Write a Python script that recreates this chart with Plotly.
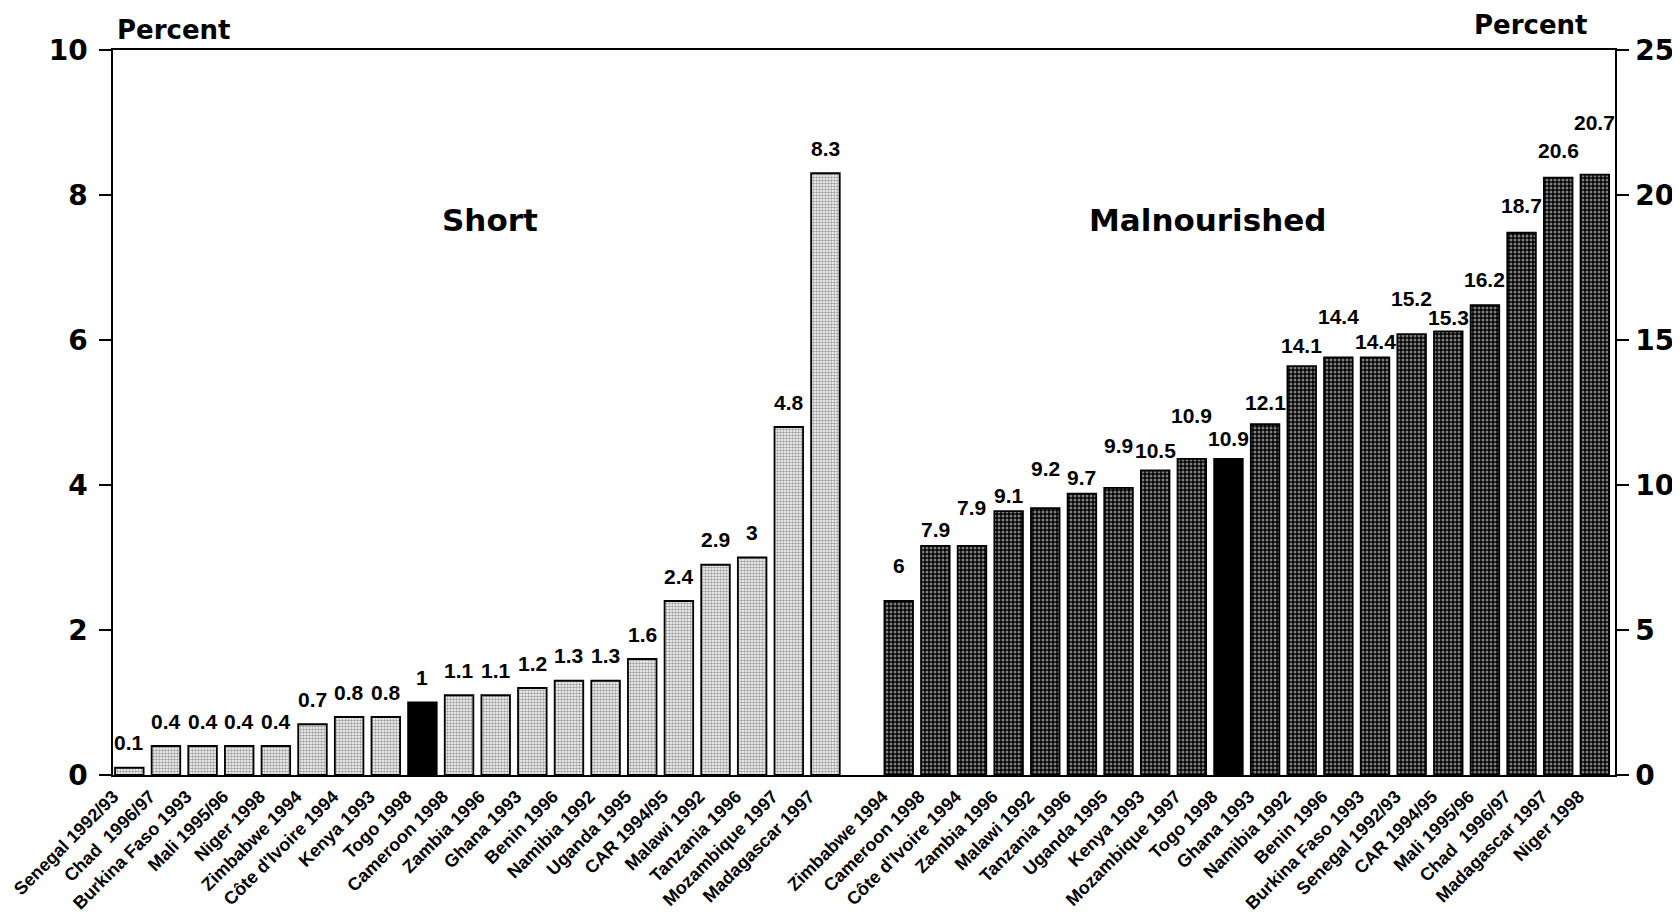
import plotly.graph_objects as go

# ---- data ----
short_labels = ["Senegal 1992/93", "Chad  1996/97", "Burkina Faso 1993", "Mali 1995/96", "Niger 1998",
                "Zimbabwe 1994", "Côte d'Ivoire 1994", "Kenya 1993", "Togo 1998", "Cameroon 1998",
                "Zambia 1996", "Ghana 1993", "Benin 1996", "Namibia 1992", "Uganda 1995",
                "CAR 1994/95", "Malawi 1992", "Tanzania 1996", "Mozambique 1997", "Madagascar 1997"]
short_values = [0.1, 0.4, 0.4, 0.4, 0.4, 0.7, 0.8, 0.8, 1, 1.1, 1.1, 1.2, 1.3, 1.3, 1.6, 2.4, 2.9, 3, 4.8, 8.3]

mal_labels = ["Zimbabwe 1994", "Cameroon 1998", "Côte d'Ivoire 1994", "Zambia 1996", "Malawi 1992",
              "Tanzania 1996", "Uganda 1995", "Kenya 1993", "Mozambique 1997", "Togo 1998",
              "Ghana 1993", "Namibia 1992", "Benin 1996", "Burkina Faso 1993", "Senegal 1992/93",
              "CAR 1994/95", "Mali 1995/96", "Chad  1996/97", "Madagascar 1997", "Niger 1998"]
mal_values = [6, 7.9, 7.9, 9.1, 9.2, 9.7, 9.9, 10.5, 10.9, 10.9, 12.1, 14.1, 14.4, 14.4, 15.2, 15.3, 16.2, 18.7, 20.6, 20.7]

highlight = "Togo 1998"
left_ticks = [0, 2, 4, 6, 8, 10]
right_ticks = [0, 5, 10, 15, 20, 25]

# ---- style ----
FONT = "DejaVu Sans"
FONT2 = "Liberation Sans"
short_label_shift = [25] * len(short_values)
mal_label_shift = [36, 16, 38, 16, 40, 16, 42, 20, 43, 20, 22, 21, 41, 16, 36, 14, 26, 27, 27, 52]

short_x = list(range(len(short_values)))
gap = 1
mal_x = [len(short_values) + gap + i for i in range(len(mal_values))]

short_shape = ["" if l == highlight else "." for l in short_labels]
short_color = ["black" if l == highlight else "white" for l in short_labels]
mal_shape = ["" if l == highlight else "." for l in mal_labels]

fig = go.Figure()
fig.add_trace(go.Bar(
    x=short_x, y=short_values, yaxis="y", width=0.78,
    marker=dict(color=short_color, line=dict(color="black", width=1.8),
                pattern=dict(shape=short_shape, fgcolor="black", size=3, solidity=0.55)),
    showlegend=False, hoverinfo="skip"))
fig.add_trace(go.Bar(
    x=mal_x, y=mal_values, yaxis="y2", width=0.78,
    marker=dict(color="black", line=dict(color="black", width=1.8),
                pattern=dict(shape=mal_shape, fgcolor="white", bgcolor="black", size=4, solidity=0.45)),
    showlegend=False, hoverinfo="skip"))

vfont = dict(family=FONT2, size=21, color="black", weight="bold")
ann = []
for x, v, s in zip(short_x, short_values, short_label_shift):
    ann.append(dict(x=x, y=v, xref="x", yref="y", text=f"{v:g}", showarrow=False, yshift=s, font=vfont))
for x, v, s in zip(mal_x, mal_values, mal_label_shift):
    ann.append(dict(x=x, y=v, xref="x", yref="y2", text=f"{v:g}", showarrow=False, yshift=s, font=vfont))

tfont = dict(family=FONT, size=26, weight="bold", color="black")
ann += [
    dict(text="Percent", x=0, y=1, xref="paper", yref="paper", xanchor="left", yanchor="middle",
         xshift=2, yshift=20, showarrow=False, font=tfont),
    dict(text="Percent", x=1, y=1, xref="paper", yref="paper", xanchor="right", yanchor="middle",
         xshift=-25, yshift=25, showarrow=False, font=tfont),
    dict(text="Short", x=(short_x[0] + short_x[-1]) / 2 + 0.35, y=7.66, xref="x", yref="y",
         yanchor="middle", showarrow=False, font=dict(family=FONT, size=31, weight="bold", color="black")),
    dict(text="Malnourished", x=(mal_x[0] + mal_x[-1]) / 2 - 1.08, y=7.66, xref="x", yref="y",
         yanchor="middle", showarrow=False, font=dict(family=FONT, size=31, weight="bold", color="black")),
]

all_x = short_x + mal_x
fig.update_layout(
    width=1672, height=904,
    margin=dict(l=105, r=65, t=42, b=137),
    paper_bgcolor="white", plot_bgcolor="white",
    barmode="overlay",
    annotations=ann,
    xaxis=dict(range=[-0.445, mal_x[-1] + 0.55], automargin=False,
               tickvals=all_x, ticktext=short_labels + mal_labels, ticklabeloverflow="allow",
               tickangle=-45, ticks="", showline=True, mirror=True, linecolor="black", linewidth=2,
               showgrid=False, zeroline=False, ticklabelshift=-16, ticklabelstandoff=2,
               tickfont=dict(family=FONT2, size=18, color="black", weight="bold")),
    yaxis=dict(range=[0, 10], tickvals=left_ticks, ticks="outside", ticklen=12, tickwidth=1.5,
               tickcolor="black", showline=True, linecolor="black", linewidth=1.5, automargin=False,
               showgrid=False, zeroline=False, ticklabelstandoff=6,
               tickfont=dict(family=FONT, size=28, color="black", weight="bold")),
    yaxis2=dict(range=[0, 25], tickvals=right_ticks, overlaying="y", side="right",
                ticks="outside", ticklen=12, tickwidth=1.5, tickcolor="black", automargin=False,
                showline=True, linecolor="black", linewidth=1.5, showgrid=False, zeroline=False,
                ticklabelstandoff=1,
                tickfont=dict(family=FONT, size=28, color="black", weight="bold")),
)

fig.write_html("out.html")
